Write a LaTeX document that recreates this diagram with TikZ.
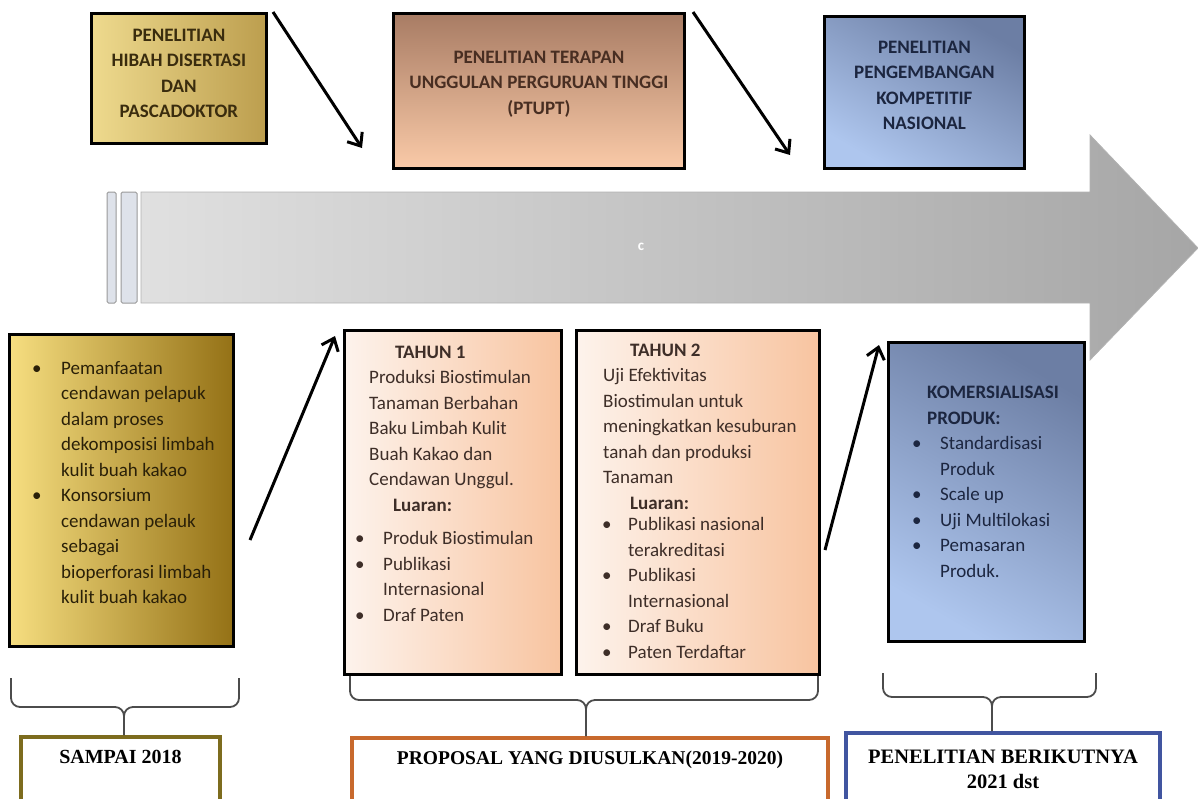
\documentclass[tikz,border=0pt]{standalone}
\usepackage{fontspec}
\setmainfont{Carlito}
\newfontfamily\lblfont{Liberation Serif}
\usetikzlibrary{arrows.meta, positioning}

\definecolor{hibahL}{RGB}{238,218,142}
\definecolor{hibahR}{RGB}{188,158,78}
\definecolor{hibahT}{RGB}{58,44,14}
\definecolor{ptuptT}{RGB}{168,124,100}
\definecolor{ptuptB}{RGB}{250,202,168}
\definecolor{ptuptX}{RGB}{72,46,34}
\definecolor{blueD}{RGB}{108,126,164}
\definecolor{blueL}{RGB}{174,198,238}
\definecolor{blueT}{RGB}{28,38,64}
\definecolor{goldL}{RGB}{246,222,128}
\definecolor{goldD}{RGB}{148,113,22}
\definecolor{goldT}{RGB}{42,32,8}
\definecolor{peachL}{RGB}{253,243,236}
\definecolor{peachR}{RGB}{248,196,160}
\definecolor{peachT}{RGB}{62,46,40}
\definecolor{arrowL}{RGB}{224,224,224}
\definecolor{arrowR}{RGB}{166,166,166}
\definecolor{stripC}{RGB}{222,226,234}
\definecolor{sampaiC}{RGB}{125,108,30}
\definecolor{proposalC}{RGB}{200,105,45}
\definecolor{berikutC}{RGB}{65,85,160}

\newcommand{\bul}[1][28pt]{\makebox[#1][l]{\textbullet}}
\newcommand{\ind}[1][28pt]{\hspace*{#1}}

\begin{document}
\begin{tikzpicture}[x=1pt, y=-1pt,
    every node/.style={inner sep=0pt},
    box/.style={draw=black, line width=2.8pt, anchor=north west},
    toptext/.style={align=center, font=\bfseries\fontsize{19}{25.5}\selectfont},
    bodytext/.style={align=left, anchor=base west, font=\fontsize{19}{25.5}\selectfont},
    lblbox/.style={draw, line width=4pt, anchor=north, minimum height=90pt},
    lbltext/.style={align=center, font=\lblfont\bfseries\fontsize{20}{25}\selectfont},
    strip/.style={draw=black!40, fill=stripC, line width=1pt, rounded corners=1.5pt},
    jump/.style={line width=3pt, -{Straight Barb[length=11pt, width=18pt]}},
    brace/.style={draw=black!70, line width=1.8pt, rounded corners=9pt},
]
\clip (0,0) rectangle (1198,798);

% big time arrow
\path[draw=black!30, line width=0.8pt, left color=arrowL, right color=arrowR]
  (141,192) -- (1090,192) -- (1090,135) -- (1198,248) -- (1090,360)
  -- (1090,303) -- (141,303) -- cycle;
\draw[strip] (107,192) rectangle (116,303);
\draw[strip] (121,192) rectangle (137,303);
\node[text=white, font=\bfseries\fontsize{15}{15}\selectfont] (mark) at (641,247) {c};

% top row
\node[box, minimum width=175pt, minimum height=130pt, left color=hibahL, right color=hibahR] (hibah) at (90,12) {};
\node[toptext, text=hibahT, yshift=5pt] (hibahtxt) at (hibah.center) {PENELITIAN\\HIBAH DISERTASI\\DAN\\PASCADOKTOR};

\node[box, minimum width=291pt, minimum height=155pt, top color=ptuptT, bottom color=ptuptB] (ptupt) at (392,12) {};
\node[toptext, text=ptuptX, yshift=7pt] (ptupttxt) at (ptupt.center) {PENELITIAN TERAPAN\\UNGGULAN PERGURUAN TINGGI\\(PTUPT)};

\node[box, minimum width=200pt, minimum height=152pt, top color=blueD, bottom color=blueL, shading angle=-30] (pkn) at (823,15) {};
\node[toptext, text=blueT, yshift=7pt] (pkntxt) at (pkn.center) {PENELITIAN\\PENGEMBANGAN\\KOMPETITIF\\NASIONAL};

% bottom row (text nodes sit on the baseline of their last line)
\node[box, minimum width=224pt, minimum height=312pt, left color=goldL, right color=goldD] (early) at (8,333) {};
\node[bodytext, text=goldT] (earlytxt) at (32,603.5) {\bul[29pt]Pemanfaatan\\
  \ind[29pt]cendawan pelapuk\\
  \ind[29pt]dalam proses\\
  \ind[29pt]dekomposisi limbah\\
  \ind[29pt]kulit buah kakao\\
  \bul[29pt]Konsorsium\\
  \ind[29pt]cendawan pelauk\\
  \ind[29pt]sebagai\\
  \ind[29pt]bioperforasi limbah\\
  \ind[29pt]kulit buah kakao};

\node[box, minimum width=217pt, minimum height=344pt, left color=peachL, right color=peachR] (year1) at (343,329) {};
\node[bodytext, text=peachT] (year1txt) at (355,621) {\ind[40pt]\textbf{TAHUN 1}\\
  \ind[14pt]Produksi Biostimulan\\
  \ind[14pt]Tanaman Berbahan\\
  \ind[14pt]Baku Limbah Kulit\\
  \ind[14pt]Buah Kakao dan\\
  \ind[14pt]Cendawan Unggul.\\
  \ind[38pt]\textbf{Luaran:}\\[8pt]
  \bul Produk Biostimulan\\
  \bul Publikasi\\
  \ind Internasional\\
  \bul Draf Paten};

\node[box, minimum width=243pt, minimum height=344pt, left color=peachL, right color=peachR] (year2) at (575,329) {};
\node[bodytext, text=peachT] (year2txt) at (602,658) {\ind[28pt]\textbf{TAHUN 2}\\
  \ind[1pt]Uji Efektivitas\\
  \ind[1pt]Biostimulan untuk\\
  \ind[1pt]meningkatkan kesuburan\\
  \ind[1pt]tanah dan produksi\\
  \ind[1pt]Tanaman\\
  \ind[28pt]\textbf{Luaran:}\\[-4pt]
  \bul[26pt]Publikasi nasional\\
  \ind[26pt]terakreditasi\\
  \bul[26pt]Publikasi\\
  \ind[26pt]Internasional\\
  \bul[26pt]Draf Buku\\
  \bul[26pt]Paten Terdaftar};

\node[box, minimum width=196pt, minimum height=299pt, top color=blueD, bottom color=blueL, shading angle=-30] (komersial) at (887,341) {};
\node[bodytext, text=blueT] (komersialtxt) at (912,577) {\ind[15pt]\textbf{KOMERSIALISASI}\\
  \ind[15pt]\textbf{PRODUK:}\\
  \bul Standardisasi\\
  \ind Produk\\
  \bul Scale up\\
  \bul Uji Multilokasi\\
  \bul Pemasaran\\
  \ind Produk.};

% step arrows
\coordinate (a1s) at (273,12);  \coordinate (a1e) at (362,148);
\coordinate (a2s) at (693,12);  \coordinate (a2e) at (790,155);
\coordinate (a3s) at (250,540); \coordinate (a3e) at (335,336);
\coordinate (a4s) at (825,550); \coordinate (a4e) at (879,345);
\draw[jump] (a1s) -- (a1e);
\draw[jump] (a2s) -- (a2e);
\draw[jump] (a3s) -- (a3e);
\draw[jump] (a4s) -- (a4e);

% period labels
\node[lblbox, draw=sampaiC, minimum width=199pt] (lbl1) at (120.5,735) {};
\node[lbltext, below=15pt of lbl1.north] (lbl1txt) {SAMPAI 2018};
\node[lblbox, draw=proposalC, minimum width=476pt] (lbl2) at (590,736) {};
\node[lbltext, font=\lblfont\bfseries\fontsize{19.5}{25}\selectfont, below=15pt of lbl2.north] (lbl2txt) {PROPOSAL YANG DIUSULKAN(2019-2020)};
\node[lblbox, draw=berikutC, minimum width=314pt] (lbl3) at (1003,731) {};
\node[lbltext, font=\lblfont\bfseries\fontsize{20.5}{25}\selectfont, below=19pt of lbl3.north] (lbl3txt) {PENELITIAN BERIKUTNYA\\2021 dst};

% braces
\coordinate (b1l) at (11,678);  \coordinate (b1r) at (239,678);
\coordinate (b1m) at (124,707); \coordinate (b1t) at (124,735);
\coordinate (b2l) at (350,676); \coordinate (b2r) at (818,676);
\coordinate (b2m) at (586,700); \coordinate (b2t) at (586,736);
\coordinate (b3l) at (883,673); \coordinate (b3r) at (1096,673);
\coordinate (b3m) at (992,697); \coordinate (b3t) at (992,731);
\draw[brace] (b1l) |- (b1m) -- (b1t);
\draw[brace] (b1r) |- (b1m) -- (b1t);
\draw[brace] (b2l) |- (b2m) -- (b2t);
\draw[brace] (b2r) |- (b2m) -- (b2t);
\draw[brace] (b3l) |- (b3m) -- (b3t);
\draw[brace] (b3r) |- (b3m) -- (b3t);

\end{tikzpicture}
\end{document}
